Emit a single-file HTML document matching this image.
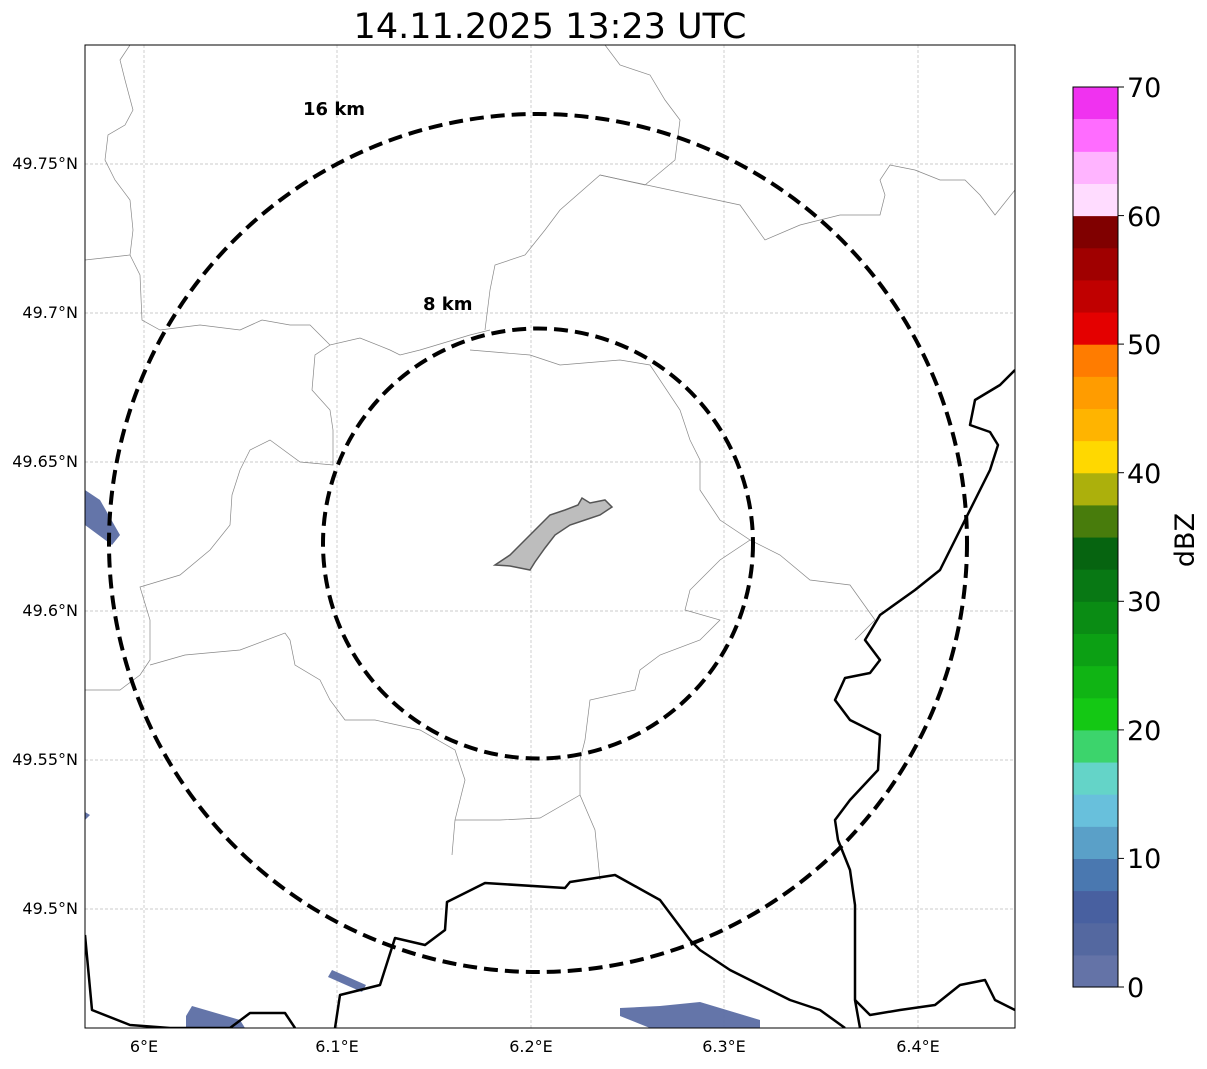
<!DOCTYPE html>
<html><head><meta charset="utf-8"><style>
body{margin:0;background:#fff;}
svg text{font-family:"DejaVu Sans","Liberation Sans",sans-serif;}
</style></head><body>
<svg width="1207" height="1064" viewBox="0 0 1207 1064" xmlns="http://www.w3.org/2000/svg">
<rect width="1207" height="1064" fill="#fff"/>
<text x="550" y="38" font-size="35" text-anchor="middle">14.11.2025 13:23 UTC</text>
<defs><clipPath id="c"><rect x="85" y="45" width="930" height="983"/></clipPath></defs>
<g clip-path="url(#c)">
<g stroke="#bbb" stroke-width="0.7" stroke-dasharray="3,2">
<line x1="144" y1="45" x2="144" y2="1028"/><line x1="337" y1="45" x2="337" y2="1028"/><line x1="531" y1="45" x2="531" y2="1028"/><line x1="724" y1="45" x2="724" y2="1028"/><line x1="918" y1="45" x2="918" y2="1028"/>
<line x1="85" y1="164" x2="1015" y2="164"/><line x1="85" y1="313" x2="1015" y2="313"/><line x1="85" y1="462" x2="1015" y2="462"/><line x1="85" y1="611" x2="1015" y2="611"/><line x1="85" y1="760" x2="1015" y2="760"/><line x1="85" y1="909" x2="1015" y2="909"/>
</g>
<g fill="#5c6ea4" opacity="0.95">
<polygon points="85,490 100,500 120,535 112,545 85,525"/>
<polygon points="85,812 90,815 85,820"/>
<polygon points="332,970 366,985 362,992 328,977"/>
<polygon points="192,1006 240,1020 245,1028 186,1028 186,1016"/>
<polygon points="620,1008 660,1006 700,1002 760,1020 760,1028 650,1028 620,1016"/>
</g>
<g fill="none" stroke="#888" stroke-width="0.7">
<polyline points="130,45 120,60 125,80 133,110 125,125 108,135 105,160 115,180 130,200 133,230 130,255 85,260"/>
<polyline points="130,255 140,275 142,320 160,330 200,325 240,330 262,320 290,325 310,325 330,345 360,338 390,350 400,355 420,350 470,335 490,330"/>
<polyline points="470,350 530,355 560,365 620,360 650,365 680,410 690,440 700,460 700,490 720,520 750,540 720,560 700,580 690,590 685,610 720,620 700,640 660,655 640,670 635,690 590,700 585,740 580,760 580,795 595,830 600,880"/>
<polyline points="330,345 315,355 312,390 330,410 333,430 333,465 300,462 270,440 250,450 240,470 232,495 230,525 210,550 180,575 140,587 150,620 150,660 140,675 120,690 85,690"/>
<polyline points="150,665 185,655 240,650 285,633 290,640 295,665 320,680 330,700 345,720 375,720 420,730 455,750 465,780 455,820 452,855"/>
<polyline points="455,820 500,820 540,818 580,795"/>
<polyline points="605,45 620,65 650,75 665,100 680,120 675,160 645,185 600,175 560,210 545,230 525,255 495,265 490,290 485,330"/>
<polyline points="600,175 740,205 765,240 800,225 840,215 880,215 885,195 880,180 890,165 915,170 940,180 965,180 980,195 995,215 1015,190"/>
<polyline points="750,540 780,555 810,580 850,585 875,620 855,640"/>
</g>
<g fill="none" stroke="#000" stroke-width="2.5" stroke-linejoin="round">
<polyline points="1015,370 1000,385 975,400 970,425 990,432 998,445 990,470 975,500 955,540 940,570 915,590 880,615 865,640 880,660 870,673 845,678 835,700 850,720 880,735 878,770 850,800 835,820 838,840 850,870 855,905 855,960 855,1000 860,1028"/>
<polyline points="855,1000 870,1015 900,1010 935,1005 960,985 985,980 995,1000 1015,1010"/>
<polyline points="85,935 92,1010 130,1025 170,1028 230,1028 250,1013 285,1013 295,1028"/>
<polyline points="335,1028 340,995 380,985 395,938 425,945 445,930 447,902 485,883 565,888 570,882 615,875 660,900 690,940 700,950 730,970 760,985 790,1000 820,1010 845,1028"/>
</g>
<polygon points="495,565 510,555 520,545 535,530 550,515 565,510 578,505 582,498 590,503 605,500 612,507 600,515 585,520 570,525 555,535 545,548 535,562 530,570 520,568 510,566" fill="#bdbdbd" stroke="#555" stroke-width="1.5"/>
<g fill="none" stroke="#000" stroke-width="4" stroke-dasharray="14,7">
<circle cx="538" cy="543" r="429"/>
<circle cx="538" cy="543.5" r="215"/>
</g>
</g>
<rect x="85" y="45" width="930" height="983" fill="none" stroke="#000" stroke-width="1"/>
<text x="303" y="115" font-size="18" font-weight="bold">16 km</text>
<text x="423" y="310" font-size="18" font-weight="bold">8 km</text>
<g font-size="16" text-anchor="middle">
<text x="144" y="1052">6°E</text><text x="337" y="1052">6.1°E</text><text x="531" y="1052">6.2°E</text><text x="724" y="1052">6.3°E</text><text x="918" y="1052">6.4°E</text>
</g>
<g font-size="16" text-anchor="end">
<text x="78" y="169">49.75°N</text><text x="78" y="318">49.7°N</text><text x="78" y="467">49.65°N</text><text x="78" y="616">49.6°N</text><text x="78" y="765">49.55°N</text><text x="78" y="914">49.5°N</text>
</g>
<g>
<rect x="1073" y="954.86" width="45" height="32.7" fill="#6473a7"/>
<rect x="1073" y="922.71" width="45" height="32.7" fill="#5468a0"/>
<rect x="1073" y="890.57" width="45" height="32.7" fill="#4860a0"/>
<rect x="1073" y="858.43" width="45" height="32.7" fill="#4a78b0"/>
<rect x="1073" y="826.29" width="45" height="32.7" fill="#5aa0c8"/>
<rect x="1073" y="794.14" width="45" height="32.7" fill="#68c0dc"/>
<rect x="1073" y="762.0" width="45" height="32.7" fill="#64d4c8"/>
<rect x="1073" y="729.86" width="45" height="32.7" fill="#3cd46c"/>
<rect x="1073" y="697.71" width="45" height="32.7" fill="#14c814"/>
<rect x="1073" y="665.57" width="45" height="32.7" fill="#10b414"/>
<rect x="1073" y="633.43" width="45" height="32.7" fill="#0ca014"/>
<rect x="1073" y="601.29" width="45" height="32.7" fill="#0a8c14"/>
<rect x="1073" y="569.14" width="45" height="32.7" fill="#087814"/>
<rect x="1073" y="537.0" width="45" height="32.7" fill="#066410"/>
<rect x="1073" y="504.86" width="45" height="32.7" fill="#487c0c"/>
<rect x="1073" y="472.71" width="45" height="32.7" fill="#acb00c"/>
<rect x="1073" y="440.57" width="45" height="32.7" fill="#ffd800"/>
<rect x="1073" y="408.43" width="45" height="32.7" fill="#ffb400"/>
<rect x="1073" y="376.29" width="45" height="32.7" fill="#ff9c00"/>
<rect x="1073" y="344.14" width="45" height="32.7" fill="#ff7c00"/>
<rect x="1073" y="312.0" width="45" height="32.7" fill="#e40000"/>
<rect x="1073" y="279.86" width="45" height="32.7" fill="#c00000"/>
<rect x="1073" y="247.71" width="45" height="32.7" fill="#a00000"/>
<rect x="1073" y="215.57" width="45" height="32.7" fill="#800000"/>
<rect x="1073" y="183.43" width="45" height="32.7" fill="#ffdcff"/>
<rect x="1073" y="151.29" width="45" height="32.7" fill="#ffb4ff"/>
<rect x="1073" y="119.14" width="45" height="32.7" fill="#ff6cff"/>
<rect x="1073" y="87.0" width="45" height="32.2" fill="#f032f0"/>
</g>
<rect x="1073" y="87" width="45" height="900" fill="none" stroke="#000" stroke-width="1"/>
<g stroke="#000" stroke-width="1">
<line x1="1118" y1="987" x2="1124" y2="987"/><line x1="1118" y1="858.4" x2="1124" y2="858.4"/><line x1="1118" y1="729.9" x2="1124" y2="729.9"/><line x1="1118" y1="601.3" x2="1124" y2="601.3"/><line x1="1118" y1="472.7" x2="1124" y2="472.7"/><line x1="1118" y1="344.1" x2="1124" y2="344.1"/><line x1="1118" y1="215.6" x2="1124" y2="215.6"/><line x1="1118" y1="87" x2="1124" y2="87"/>
</g>
<g font-size="27">
<text x="1127" y="997">0</text><text x="1127" y="868">10</text><text x="1127" y="740">20</text><text x="1127" y="611">30</text><text x="1127" y="483">40</text><text x="1127" y="354">50</text><text x="1127" y="226">60</text><text x="1127" y="97">70</text>
</g>
<text transform="translate(1194,540) rotate(-90)" font-size="27" text-anchor="middle">dBZ</text>
</svg>
</body></html>
